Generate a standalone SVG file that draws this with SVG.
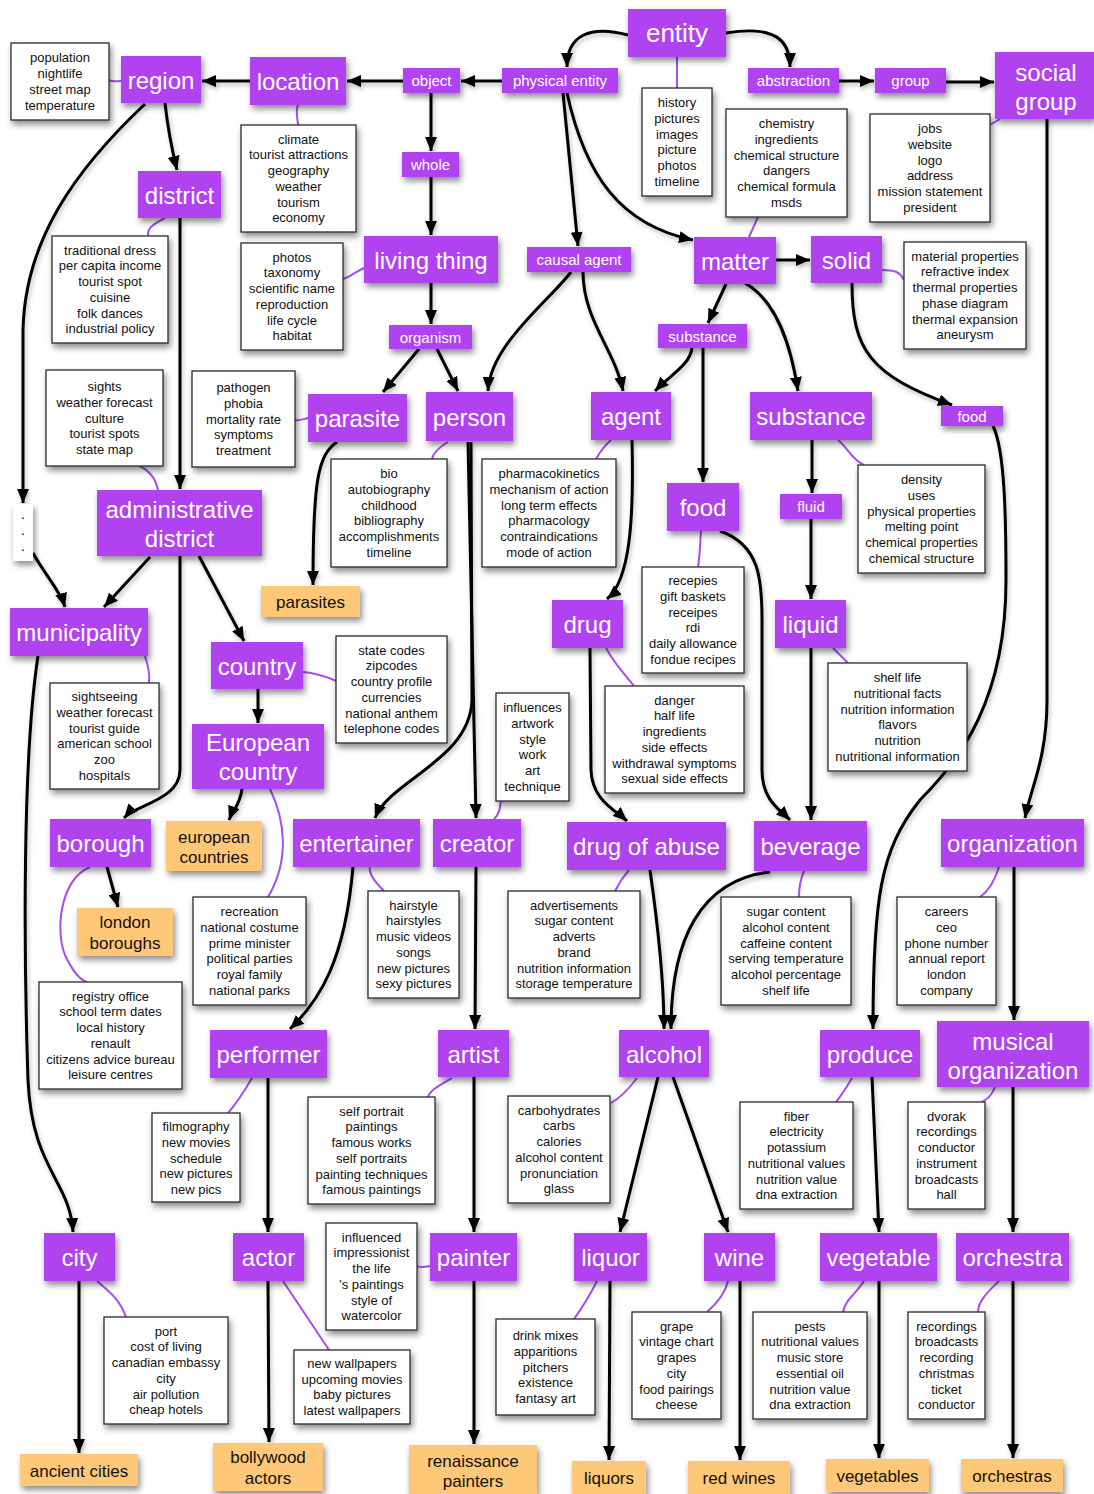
<svg xmlns="http://www.w3.org/2000/svg" width="1094" height="1494" viewBox="0 0 1094 1494">
<defs>
<filter id="sh" x="-20%" y="-20%" width="150%" height="160%">
<feDropShadow dx="2" dy="4" stdDeviation="3" flood-color="#000" flood-opacity="0.45"/>
</filter>
<filter id="lsh" x="-20%" y="-20%" width="150%" height="150%">
<feDropShadow dx="1.5" dy="3" stdDeviation="2" flood-color="#000" flood-opacity="0.25"/>
</filter>
<marker id="ah" viewBox="0 0 14 12" refX="14" refY="6" markerWidth="14" markerHeight="12" markerUnits="userSpaceOnUse" orient="auto">
<path d="M0,0 L14,6 L0,12 z" fill="#000"/>
</marker>
</defs>
<style>
text{font-family:"Liberation Sans",Arial,Helvetica,sans-serif;text-anchor:middle}
.n rect{fill:#b142f0;filter:url(#sh)}
.n text{fill:#fff;font-size:24px}
.n.s text{font-size:15px}
.b rect{fill:#fff;stroke:#2a2a2a;stroke-width:1.3;filter:url(#sh)}
.b text{fill:#111;font-size:13px}
.o rect{fill:#ffc878;filter:url(#sh)}
.o text{fill:#111;font-size:17px}
#edges path{fill:none;stroke:#000;stroke-width:3;marker-end:url(#ah)}
#links path{fill:none;stroke:#a64cf2;stroke-width:2}
</style>
<rect width="1094" height="1494" fill="#fff"/>

<g id="links">
<path d="M677,57 L677,88"/>
<path d="M121,81 C115,81 112,82 108,80"/>
<path d="M298,105 C295,112 298,120 298,125"/>
<path d="M165,218 C152,225 147,228 148,236"/>
<path d="M758,217 L749,237"/>
<path d="M1000,119 L988,126"/>
<path d="M364,268 C355,272 350,277 343,279"/>
<path d="M882,270 C895,270 900,272 904,280"/>
<path d="M137,465 C150,470 156,480 158,490"/>
<path d="M295,420 C300,421 303,419 308,418"/>
<path d="M448,442 C438,448 433,453 432,459"/>
<path d="M611,440 C604,446 600,452 596,459"/>
<path d="M838,440 C848,448 852,460 864,465"/>
<path d="M701,531 C700,545 700,555 698,567"/>
<path d="M145,656 C148,665 150,675 149,683"/>
<path d="M303,672 C315,673 325,676 336,681"/>
<path d="M606,648 C615,665 628,678 634,686"/>
<path d="M833,648 C840,655 845,660 848,663"/>
<path d="M270,789 C285,820 290,860 268,897"/>
<path d="M494,819 C499,815 500,808 501,801"/>
<path d="M370,867 C368,875 378,885 384,891"/>
<path d="M629,870 C622,878 618,885 615,891"/>
<path d="M804,871 C800,880 799,890 799,897"/>
<path d="M999,867 C995,880 990,890 980,897"/>
<path d="M90,867 C60,880 55,930 65,955 C72,970 80,980 87,982"/>
<path d="M252,1078 C245,1090 235,1105 228,1113"/>
<path d="M452,1078 C440,1085 430,1090 428,1097"/>
<path d="M637,1078 C628,1090 620,1098 611,1103"/>
<path d="M852,1078 C845,1090 840,1097 836,1102"/>
<path d="M995,1087 C992,1095 986,1100 982,1102"/>
<path d="M430,1266 C425,1267 420,1268 417,1266"/>
<path d="M97,1281 C110,1292 120,1300 126,1317"/>
<path d="M283,1281 L329,1350"/>
<path d="M597,1281 C590,1295 582,1308 574,1319"/>
<path d="M728,1281 C725,1295 715,1305 707,1312"/>
<path d="M864,1281 C855,1295 845,1300 843,1312"/>
<path d="M999,1281 C990,1290 978,1300 978,1312"/>
</g>

<g id="edges" filter="url(#lsh)">
<path d="M628,35 C590,25 567,35 567,67"/>
<path d="M726,33 C775,25 790,40 790,67"/>
<path d="M502,81 L461,81"/>
<path d="M403,81 L347,81"/>
<path d="M250,81 L202,81"/>
<path d="M431,93 L431,151"/>
<path d="M431,177 L431,235"/>
<path d="M563,93 L578,246"/>
<path d="M567,93 C585,175 620,225 693,240"/>
<path d="M839,81 L874,81"/>
<path d="M946,82 L994,82"/>
<path d="M165,103 C168,130 172,150 177,170"/>
<path d="M145,104 C75,170 25,240 23,330 L23,503"/>
<path d="M180,218 L180,489"/>
<path d="M431,283 L431,324"/>
<path d="M571,272 C550,300 490,345 488,391"/>
<path d="M583,272 C583,320 615,350 623,391"/>
<path d="M726,284 L708,323"/>
<path d="M776,260 L810,260"/>
<path d="M745,283 C775,300 790,340 798,391"/>
<path d="M852,283 C852,350 870,375 952,405"/>
<path d="M419,349 L383,392"/>
<path d="M437,349 L458,391"/>
<path d="M692,348 C690,365 670,375 655,391"/>
<path d="M703,348 L703,482"/>
<path d="M812,440 L812,493"/>
<path d="M811,519 L811,599"/>
<path d="M993,426 C1005,450 1006,520 1006,580 C1006,700 960,760 920,800 C880,850 873,900 873,1029"/>
<path d="M1047,119 L1047,700 C1047,760 1030,790 1025,818"/>
<path d="M150,557 L104,607"/>
<path d="M33,553 C45,575 60,590 65,607"/>
<path d="M199,556 L244,641"/>
<path d="M180,556 L180,770 C180,800 135,805 124,818"/>
<path d="M258,689 L258,723"/>
<path d="M242,789 C240,805 232,812 229,820"/>
<path d="M107,867 L118,907"/>
<path d="M337,442 C318,455 313,480 313,585"/>
<path d="M471,442 L472,700 C470,760 390,780 375,818"/>
<path d="M468,442 L476,818"/>
<path d="M632,440 C634,520 630,580 607,599"/>
<path d="M720,531 C760,545 762,580 762,620 L762,770 C762,800 780,810 790,820"/>
<path d="M811,648 L811,820"/>
<path d="M590,648 L591,770 C592,800 615,810 627,821"/>
<path d="M353,867 C345,960 320,1000 290,1029"/>
<path d="M476,867 L475,1029"/>
<path d="M650,870 C660,940 664,990 664,1029"/>
<path d="M770,872 C700,880 671,940 671,1029"/>
<path d="M1014,867 L1014,1020"/>
<path d="M268,1078 L268,1232"/>
<path d="M474,1077 L474,1232"/>
<path d="M658,1077 L620,1232"/>
<path d="M673,1077 L728,1232"/>
<path d="M872,1077 L879,1232"/>
<path d="M1013,1087 L1013,1232"/>
<path d="M38,656 C22,760 24,960 28,1080 C32,1170 70,1180 73,1232"/>
<path d="M79,1281 L79,1453"/>
<path d="M268,1281 L269,1442"/>
<path d="M474,1281 L474,1444"/>
<path d="M610,1281 L609,1460"/>
<path d="M740,1281 L740,1460"/>
<path d="M879,1281 L879,1458"/>
<path d="M1013,1281 L1013,1458"/>
</g>

<!-- purple nodes -->
<g id="entity" class="n"><rect x="628" y="9" width="98" height="48"/><text x="677" y="42" style="font-size:26px">entity</text></g>
<g id="physical-entity" class="n s"><rect x="502" y="68" width="116" height="25"/><text x="560" y="86">physical entity</text></g>
<g id="object" class="n s"><rect x="403" y="68" width="57" height="25"/><text x="431.5" y="86">object</text></g>
<g id="whole" class="n s"><rect x="402" y="152" width="57" height="25"/><text x="430.5" y="170">whole</text></g>
<g id="location" class="n"><rect x="250" y="57" width="96" height="48"/><text x="298" y="90">location</text></g>
<g id="region" class="n"><rect x="121" y="56" width="80" height="47"/><text x="161" y="88.5">region</text></g>
<g id="district" class="n"><rect x="138" y="171" width="83" height="47"/><text x="179.5" y="203.5">district</text></g>
<g id="abstraction" class="n s"><rect x="748" y="68" width="91" height="25"/><text x="793.5" y="86">abstraction</text></g>
<g id="group" class="n s"><rect x="875" y="68" width="71" height="25"/><text x="910.5" y="86">group</text></g>
<g id="social-group" class="n"><rect x="995" y="52" width="99" height="67"/><text x="1046" y="81">social</text><text x="1046" y="110">group</text></g>
<g id="living-thing" class="n"><rect x="364" y="236" width="134" height="47"/><text x="431" y="268.5">living thing</text></g>
<g id="causal-agent" class="n s"><rect x="527" y="247" width="104" height="25"/><text x="579" y="265">causal agent</text></g>
<g id="matter" class="n"><rect x="694" y="237" width="82" height="47"/><text x="735" y="269.5">matter</text></g>
<g id="solid" class="n"><rect x="811" y="236" width="71" height="47"/><text x="846.5" y="268.5">solid</text></g>
<g id="organism" class="n s"><rect x="389" y="325" width="83" height="24"/><text x="430.5" y="342.5">organism</text></g>
<g id="substance-1" class="n s"><rect x="658" y="324" width="89" height="24"/><text x="702.5" y="341.5">substance</text></g>
<g id="parasite" class="n"><rect x="308" y="394" width="99" height="48"/><text x="357.5" y="427">parasite</text></g>
<g id="person" class="n"><rect x="426" y="392" width="87" height="49"/><text x="469.5" y="425.5">person</text></g>
<g id="agent" class="n"><rect x="591" y="392" width="80" height="48"/><text x="631" y="425">agent</text></g>
<g id="substance-2" class="n"><rect x="750" y="392" width="122" height="48"/><text x="811" y="425">substance</text></g>
<g id="food-1" class="n s"><rect x="941" y="406" width="62" height="20"/><text x="972" y="421.5">food</text></g>
<g id="administrative-district" class="n"><rect x="97" y="490" width="165" height="66"/><text x="179.5" y="518">administrative</text><text x="179.5" y="547">district</text></g>
<g id="municipality" class="n"><rect x="10" y="608" width="138" height="48"/><text x="79" y="641">municipality</text></g>
<g id="food-2" class="n"><rect x="667" y="483" width="72" height="48"/><text x="703" y="516">food</text></g>
<g id="fluid" class="n s"><rect x="780" y="494" width="62" height="25"/><text x="811" y="512">fluid</text></g>
<g id="drug" class="n"><rect x="552" y="600" width="71" height="48"/><text x="587.5" y="633">drug</text></g>
<g id="liquid" class="n"><rect x="775" y="600" width="71" height="48"/><text x="810.5" y="633">liquid</text></g>
<g id="country" class="n"><rect x="211" y="642" width="92" height="47"/><text x="257" y="674.5">country</text></g>
<g id="european-country" class="n"><rect x="192" y="724" width="132" height="65"/><text x="258" y="750.5">European</text><text x="258" y="779.5">country</text></g>
<g id="borough" class="n"><rect x="50" y="819" width="101" height="48"/><text x="100.5" y="852">borough</text></g>
<g id="entertainer" class="n"><rect x="293" y="819" width="127" height="48"/><text x="356.5" y="852">entertainer</text></g>
<g id="creator" class="n"><rect x="433" y="819" width="88" height="48"/><text x="477" y="852">creator</text></g>
<g id="drug-of-abuse" class="n"><rect x="567" y="822" width="159" height="48"/><text x="646.5" y="855">drug of abuse</text></g>
<g id="beverage" class="n"><rect x="754" y="821" width="113" height="50"/><text x="810.5" y="855">beverage</text></g>
<g id="organization" class="n"><rect x="941" y="819" width="143" height="48"/><text x="1012.5" y="852">organization</text></g>
<g id="performer" class="n"><rect x="210" y="1030" width="117" height="48"/><text x="268.5" y="1063">performer</text></g>
<g id="artist" class="n"><rect x="438" y="1030" width="71" height="47"/><text x="473.5" y="1062.5">artist</text></g>
<g id="alcohol" class="n"><rect x="619" y="1030" width="90" height="47"/><text x="664" y="1062.5">alcohol</text></g>
<g id="produce" class="n"><rect x="820" y="1030" width="100" height="47"/><text x="870" y="1062.5">produce</text></g>
<g id="musical-organization" class="n"><rect x="937" y="1021" width="152" height="66"/><text x="1013" y="1050">musical</text><text x="1013" y="1079">organization</text></g>
<g id="city" class="n"><rect x="44" y="1233" width="71" height="48"/><text x="79.5" y="1266">city</text></g>
<g id="actor" class="n"><rect x="233" y="1233" width="71" height="48"/><text x="268.5" y="1266">actor</text></g>
<g id="painter" class="n"><rect x="430" y="1233" width="87" height="48"/><text x="473.5" y="1266">painter</text></g>
<g id="liquor" class="n"><rect x="574" y="1233" width="73" height="48"/><text x="610.5" y="1266">liquor</text></g>
<g id="wine" class="n"><rect x="704" y="1233" width="71" height="48"/><text x="739.5" y="1266">wine</text></g>
<g id="vegetable" class="n"><rect x="820" y="1233" width="117" height="48"/><text x="878.5" y="1266">vegetable</text></g>
<g id="orchestra" class="n"><rect x="956" y="1233" width="113" height="48"/><text x="1012.5" y="1266">orchestra</text></g>

<!-- orange nodes -->
<g id="parasites" class="o"><rect x="261" y="586" width="99" height="31"/><text x="310.5" y="608">parasites</text></g>
<g id="european-countries" class="o"><rect x="166" y="821" width="96" height="50"/><text x="214" y="843">european</text><text x="214" y="863">countries</text></g>
<g id="london-boroughs" class="o"><rect x="77" y="908" width="96" height="48"/><text x="125" y="928">london</text><text x="125" y="949">boroughs</text></g>
<g id="ancient-cities" class="o"><rect x="20" y="1454" width="118" height="32"/><text x="79" y="1476.5">ancient cities</text></g>
<g id="bollywood-actors" class="o"><rect x="213" y="1443" width="110" height="48"/><text x="268" y="1463">bollywood</text><text x="268" y="1484">actors</text></g>
<g id="renaissance-painters" class="o"><rect x="409" y="1445" width="128" height="49"/><text x="473" y="1467">renaissance</text><text x="473" y="1487">painters</text></g>
<g id="liquors" class="o"><rect x="572" y="1461" width="74" height="33"/><text x="609" y="1483.5">liquors</text></g>
<g id="red-wines" class="o"><rect x="688" y="1461" width="102" height="33"/><text x="739" y="1483.5">red wines</text></g>
<g id="vegetables" class="o"><rect x="826" y="1459" width="103" height="33"/><text x="877.5" y="1481.5">vegetables</text></g>
<g id="orchestras" class="o"><rect x="961" y="1459" width="102" height="33"/><text x="1012" y="1481.5">orchestras</text></g>

<!-- dots -->
<g id="dots"><rect x="13" y="504" width="20" height="57" fill="#fff" filter="url(#sh)"/><text x="23" y="519" style="font-size:14px;fill:#111">.</text><text x="23" y="535" style="font-size:14px;fill:#111">.</text><text x="23" y="551" style="font-size:14px;fill:#111">.</text></g>

<!-- note boxes -->
<g id="note-region" class="b"><rect x="11" y="43" width="98" height="77"/><text x="60" y="62.4"><tspan x="60">population</tspan><tspan x="60" dy="15.75">nightlife</tspan><tspan x="60" dy="15.75">street map</tspan><tspan x="60" dy="15.75">temperature</tspan></text></g>
<g id="note-entity" class="b"><rect x="642" y="88" width="70" height="108"/><text x="677" y="107.1"><tspan x="677">history</tspan><tspan x="677" dy="15.75">pictures</tspan><tspan x="677" dy="15.75">images</tspan><tspan x="677" dy="15.75">picture</tspan><tspan x="677" dy="15.75">photos</tspan><tspan x="677" dy="15.75">timeline</tspan></text></g>
<g id="note-matter" class="b"><rect x="726" y="109" width="121" height="108"/><text x="786.5" y="128.1"><tspan x="786.5">chemistry</tspan><tspan x="786.5" dy="15.75">ingredients</tspan><tspan x="786.5" dy="15.75">chemical structure</tspan><tspan x="786.5" dy="15.75">dangers</tspan><tspan x="786.5" dy="15.75">chemical formula</tspan><tspan x="786.5" dy="15.75">msds</tspan></text></g>
<g id="note-social-group" class="b"><rect x="870" y="114" width="120" height="108"/><text x="930" y="133.1"><tspan x="930">jobs</tspan><tspan x="930" dy="15.75">website</tspan><tspan x="930" dy="15.75">logo</tspan><tspan x="930" dy="15.75">address</tspan><tspan x="930" dy="15.75">mission statement</tspan><tspan x="930" dy="15.75">president</tspan></text></g>
<g id="note-location" class="b"><rect x="241" y="125" width="115" height="107"/><text x="298.5" y="143.6"><tspan x="298.5">climate</tspan><tspan x="298.5" dy="15.75">tourist attractions</tspan><tspan x="298.5" dy="15.75">geography</tspan><tspan x="298.5" dy="15.75">weather</tspan><tspan x="298.5" dy="15.75">tourism</tspan><tspan x="298.5" dy="15.75">economy</tspan></text></g>
<g id="note-district" class="b"><rect x="52" y="236" width="116" height="107"/><text x="110" y="254.6"><tspan x="110">traditional dress</tspan><tspan x="110" dy="15.75">per capita income</tspan><tspan x="110" dy="15.75">tourist spot</tspan><tspan x="110" dy="15.75">cuisine</tspan><tspan x="110" dy="15.75">folk dances</tspan><tspan x="110" dy="15.75">industrial policy</tspan></text></g>
<g id="note-living-thing" class="b"><rect x="241" y="243" width="102" height="107"/><text x="292" y="261.6"><tspan x="292">photos</tspan><tspan x="292" dy="15.75">taxonomy</tspan><tspan x="292" dy="15.75">scientific name</tspan><tspan x="292" dy="15.75">reproduction</tspan><tspan x="292" dy="15.75">life cycle</tspan><tspan x="292" dy="15.75">habitat</tspan></text></g>
<g id="note-solid" class="b"><rect x="904" y="242" width="122" height="107"/><text x="965" y="260.6"><tspan x="965">material properties</tspan><tspan x="965" dy="15.75">refractive index</tspan><tspan x="965" dy="15.75">thermal properties</tspan><tspan x="965" dy="15.75">phase diagram</tspan><tspan x="965" dy="15.75">thermal expansion</tspan><tspan x="965" dy="15.75">aneurysm</tspan></text></g>
<g id="note-administrative-district" class="b"><rect x="46" y="370" width="117" height="96"/><text x="104.5" y="391"><tspan x="104.5">sights</tspan><tspan x="104.5" dy="15.75">weather forecast</tspan><tspan x="104.5" dy="15.75">culture</tspan><tspan x="104.5" dy="15.75">tourist spots</tspan><tspan x="104.5" dy="15.75">state map</tspan></text></g>
<g id="note-parasite" class="b"><rect x="192" y="371" width="103" height="96"/><text x="243.5" y="392"><tspan x="243.5">pathogen</tspan><tspan x="243.5" dy="15.75">phobia</tspan><tspan x="243.5" dy="15.75">mortality rate</tspan><tspan x="243.5" dy="15.75">symptoms</tspan><tspan x="243.5" dy="15.75">treatment</tspan></text></g>
<g id="note-person" class="b"><rect x="331" y="459" width="116" height="108"/><text x="389" y="478.1"><tspan x="389">bio</tspan><tspan x="389" dy="15.75">autobiography</tspan><tspan x="389" dy="15.75">childhood</tspan><tspan x="389" dy="15.75">bibliography</tspan><tspan x="389" dy="15.75">accomplishments</tspan><tspan x="389" dy="15.75">timeline</tspan></text></g>
<g id="note-agent" class="b"><rect x="482" y="459" width="134" height="108"/><text x="549" y="478.1"><tspan x="549">pharmacokinetics</tspan><tspan x="549" dy="15.75">mechanism of action</tspan><tspan x="549" dy="15.75">long term effects</tspan><tspan x="549" dy="15.75">pharmacology</tspan><tspan x="549" dy="15.75">contraindications</tspan><tspan x="549" dy="15.75">mode of action</tspan></text></g>
<g id="note-substance" class="b"><rect x="858" y="465" width="127" height="108"/><text x="921.5" y="484.1"><tspan x="921.5">density</tspan><tspan x="921.5" dy="15.75">uses</tspan><tspan x="921.5" dy="15.75">physical properties</tspan><tspan x="921.5" dy="15.75">melting point</tspan><tspan x="921.5" dy="15.75">chemical properties</tspan><tspan x="921.5" dy="15.75">chemical structure</tspan></text></g>
<g id="note-food" class="b"><rect x="642" y="567" width="102" height="106"/><text x="693" y="585.1"><tspan x="693">recepies</tspan><tspan x="693" dy="15.75">gift baskets</tspan><tspan x="693" dy="15.75">receipes</tspan><tspan x="693" dy="15.75">rdi</tspan><tspan x="693" dy="15.75">daily allowance</tspan><tspan x="693" dy="15.75">fondue recipes</tspan></text></g>
<g id="note-country" class="b"><rect x="336" y="636" width="111" height="107"/><text x="391.5" y="654.6"><tspan x="391.5">state codes</tspan><tspan x="391.5" dy="15.75">zipcodes</tspan><tspan x="391.5" dy="15.75">country profile</tspan><tspan x="391.5" dy="15.75">currencies</tspan><tspan x="391.5" dy="15.75">national anthem</tspan><tspan x="391.5" dy="15.75">telephone codes</tspan></text></g>
<g id="note-municipality" class="b"><rect x="50" y="683" width="109" height="106"/><text x="104.5" y="701.1"><tspan x="104.5">sightseeing</tspan><tspan x="104.5" dy="15.75">weather forecast</tspan><tspan x="104.5" dy="15.75">tourist guide</tspan><tspan x="104.5" dy="15.75">american school</tspan><tspan x="104.5" dy="15.75">zoo</tspan><tspan x="104.5" dy="15.75">hospitals</tspan></text></g>
<g id="note-creator" class="b"><rect x="496" y="693" width="73" height="108"/><text x="532.5" y="712.1"><tspan x="532.5">influences</tspan><tspan x="532.5" dy="15.75">artwork</tspan><tspan x="532.5" dy="15.75">style</tspan><tspan x="532.5" dy="15.75">work</tspan><tspan x="532.5" dy="15.75">art</tspan><tspan x="532.5" dy="15.75">technique</tspan></text></g>
<g id="note-drug" class="b"><rect x="605" y="686" width="139" height="107"/><text x="674.5" y="704.6"><tspan x="674.5">danger</tspan><tspan x="674.5" dy="15.75">half life</tspan><tspan x="674.5" dy="15.75">ingredients</tspan><tspan x="674.5" dy="15.75">side effects</tspan><tspan x="674.5" dy="15.75">withdrawal symptoms</tspan><tspan x="674.5" dy="15.75">sexual side effects</tspan></text></g>
<g id="note-liquid" class="b"><rect x="828" y="663" width="139" height="108"/><text x="897.5" y="682.1"><tspan x="897.5">shelf life</tspan><tspan x="897.5" dy="15.75">nutritional facts</tspan><tspan x="897.5" dy="15.75">nutrition information</tspan><tspan x="897.5" dy="15.75">flavors</tspan><tspan x="897.5" dy="15.75">nutrition</tspan><tspan x="897.5" dy="15.75">nutritional information</tspan></text></g>
<g id="note-european-country" class="b"><rect x="193" y="897" width="113" height="108"/><text x="249.5" y="916.1"><tspan x="249.5">recreation</tspan><tspan x="249.5" dy="15.75">national costume</tspan><tspan x="249.5" dy="15.75">prime minister</tspan><tspan x="249.5" dy="15.75">political parties</tspan><tspan x="249.5" dy="15.75">royal family</tspan><tspan x="249.5" dy="15.75">national parks</tspan></text></g>
<g id="note-entertainer" class="b"><rect x="368" y="891" width="91" height="107"/><text x="413.5" y="909.6"><tspan x="413.5">hairstyle</tspan><tspan x="413.5" dy="15.75">hairstyles</tspan><tspan x="413.5" dy="15.75">music videos</tspan><tspan x="413.5" dy="15.75">songs</tspan><tspan x="413.5" dy="15.75">new pictures</tspan><tspan x="413.5" dy="15.75">sexy pictures</tspan></text></g>
<g id="note-drug-of-abuse" class="b"><rect x="508" y="891" width="132" height="107"/><text x="574" y="909.6"><tspan x="574">advertisements</tspan><tspan x="574" dy="15.75">sugar content</tspan><tspan x="574" dy="15.75">adverts</tspan><tspan x="574" dy="15.75">brand</tspan><tspan x="574" dy="15.75">nutrition information</tspan><tspan x="574" dy="15.75">storage temperature</tspan></text></g>
<g id="note-beverage" class="b"><rect x="721" y="897" width="130" height="108"/><text x="786" y="916.1"><tspan x="786">sugar content</tspan><tspan x="786" dy="15.75">alcohol content</tspan><tspan x="786" dy="15.75">caffeine content</tspan><tspan x="786" dy="15.75">serving temperature</tspan><tspan x="786" dy="15.75">alcohol percentage</tspan><tspan x="786" dy="15.75">shelf life</tspan></text></g>
<g id="note-organization" class="b"><rect x="897" y="897" width="99" height="108"/><text x="946.5" y="916.1"><tspan x="946.5">careers</tspan><tspan x="946.5" dy="15.75">ceo</tspan><tspan x="946.5" dy="15.75">phone number</tspan><tspan x="946.5" dy="15.75">annual report</tspan><tspan x="946.5" dy="15.75">london</tspan><tspan x="946.5" dy="15.75">company</tspan></text></g>
<g id="note-borough" class="b"><rect x="39" y="982" width="143" height="107"/><text x="110.5" y="1000.6"><tspan x="110.5">registry office</tspan><tspan x="110.5" dy="15.75">school term dates</tspan><tspan x="110.5" dy="15.75">local history</tspan><tspan x="110.5" dy="15.75">renault</tspan><tspan x="110.5" dy="15.75">citizens advice bureau</tspan><tspan x="110.5" dy="15.75">leisure centres</tspan></text></g>
<g id="note-performer" class="b"><rect x="152" y="1113" width="88" height="89"/><text x="196" y="1131"><tspan x="196">filmography</tspan><tspan x="196" dy="15.75">new movies</tspan><tspan x="196" dy="15.75">schedule</tspan><tspan x="196" dy="15.75">new pictures</tspan><tspan x="196" dy="15.75">new pics</tspan></text></g>
<g id="note-artist" class="b"><rect x="308" y="1097" width="127" height="107"/><text x="371.5" y="1115.6"><tspan x="371.5">self portrait</tspan><tspan x="371.5" dy="15.75">paintings</tspan><tspan x="371.5" dy="15.75">famous works</tspan><tspan x="371.5" dy="15.75">self portraits</tspan><tspan x="371.5" dy="15.75">painting techniques</tspan><tspan x="371.5" dy="15.75">famous paintings</tspan></text></g>
<g id="note-alcohol" class="b"><rect x="508" y="1096" width="102" height="107"/><text x="559" y="1114.6"><tspan x="559">carbohydrates</tspan><tspan x="559" dy="15.75">carbs</tspan><tspan x="559" dy="15.75">calories</tspan><tspan x="559" dy="15.75">alcohol content</tspan><tspan x="559" dy="15.75">pronunciation</tspan><tspan x="559" dy="15.75">glass</tspan></text></g>
<g id="note-produce" class="b"><rect x="740" y="1102" width="113" height="107"/><text x="796.5" y="1120.6"><tspan x="796.5">fiber</tspan><tspan x="796.5" dy="15.75">electricity</tspan><tspan x="796.5" dy="15.75">potassium</tspan><tspan x="796.5" dy="15.75">nutritional values</tspan><tspan x="796.5" dy="15.75">nutrition value</tspan><tspan x="796.5" dy="15.75">dna extraction</tspan></text></g>
<g id="note-musical-organization" class="b"><rect x="908" y="1102" width="77" height="107"/><text x="946.5" y="1120.6"><tspan x="946.5">dvorak</tspan><tspan x="946.5" dy="15.75">recordings</tspan><tspan x="946.5" dy="15.75">conductor</tspan><tspan x="946.5" dy="15.75">instrument</tspan><tspan x="946.5" dy="15.75">broadcasts</tspan><tspan x="946.5" dy="15.75">hall</tspan></text></g>
<g id="note-painter" class="b"><rect x="326" y="1223" width="91" height="107"/><text x="371.5" y="1241.6"><tspan x="371.5">influenced</tspan><tspan x="371.5" dy="15.75">impressionist</tspan><tspan x="371.5" dy="15.75">the life</tspan><tspan x="371.5" dy="15.75">'s paintings</tspan><tspan x="371.5" dy="15.75">style of</tspan><tspan x="371.5" dy="15.75">watercolor</tspan></text></g>
<g id="note-city" class="b"><rect x="104" y="1317" width="124" height="107"/><text x="166" y="1335.6"><tspan x="166">port</tspan><tspan x="166" dy="15.75">cost of living</tspan><tspan x="166" dy="15.75">canadian embassy</tspan><tspan x="166" dy="15.75">city</tspan><tspan x="166" dy="15.75">air pollution</tspan><tspan x="166" dy="15.75">cheap hotels</tspan></text></g>
<g id="note-actor" class="b"><rect x="294" y="1350" width="116" height="74"/><text x="352" y="1367.9"><tspan x="352">new wallpapers</tspan><tspan x="352" dy="15.75">upcoming movies</tspan><tspan x="352" dy="15.75">baby pictures</tspan><tspan x="352" dy="15.75">latest wallpapers</tspan></text></g>
<g id="note-liquor" class="b"><rect x="496" y="1319" width="99" height="96"/><text x="545.5" y="1340"><tspan x="545.5">drink mixes</tspan><tspan x="545.5" dy="15.75">apparitions</tspan><tspan x="545.5" dy="15.75">pitchers</tspan><tspan x="545.5" dy="15.75">existence</tspan><tspan x="545.5" dy="15.75">fantasy art</tspan></text></g>
<g id="note-wine" class="b"><rect x="632" y="1312" width="89" height="107"/><text x="676.5" y="1330.6"><tspan x="676.5">grape</tspan><tspan x="676.5" dy="15.75">vintage chart</tspan><tspan x="676.5" dy="15.75">grapes</tspan><tspan x="676.5" dy="15.75">city</tspan><tspan x="676.5" dy="15.75">food pairings</tspan><tspan x="676.5" dy="15.75">cheese</tspan></text></g>
<g id="note-vegetable" class="b"><rect x="753" y="1312" width="114" height="107"/><text x="810" y="1330.6"><tspan x="810">pests</tspan><tspan x="810" dy="15.75">nutritional values</tspan><tspan x="810" dy="15.75">music store</tspan><tspan x="810" dy="15.75">essential oil</tspan><tspan x="810" dy="15.75">nutrition value</tspan><tspan x="810" dy="15.75">dna extraction</tspan></text></g>
<g id="note-orchestra" class="b"><rect x="908" y="1312" width="77" height="107"/><text x="946.5" y="1330.6"><tspan x="946.5">recordings</tspan><tspan x="946.5" dy="15.75">broadcasts</tspan><tspan x="946.5" dy="15.75">recording</tspan><tspan x="946.5" dy="15.75">christmas</tspan><tspan x="946.5" dy="15.75">ticket</tspan><tspan x="946.5" dy="15.75">conductor</tspan></text></g>
</svg>
